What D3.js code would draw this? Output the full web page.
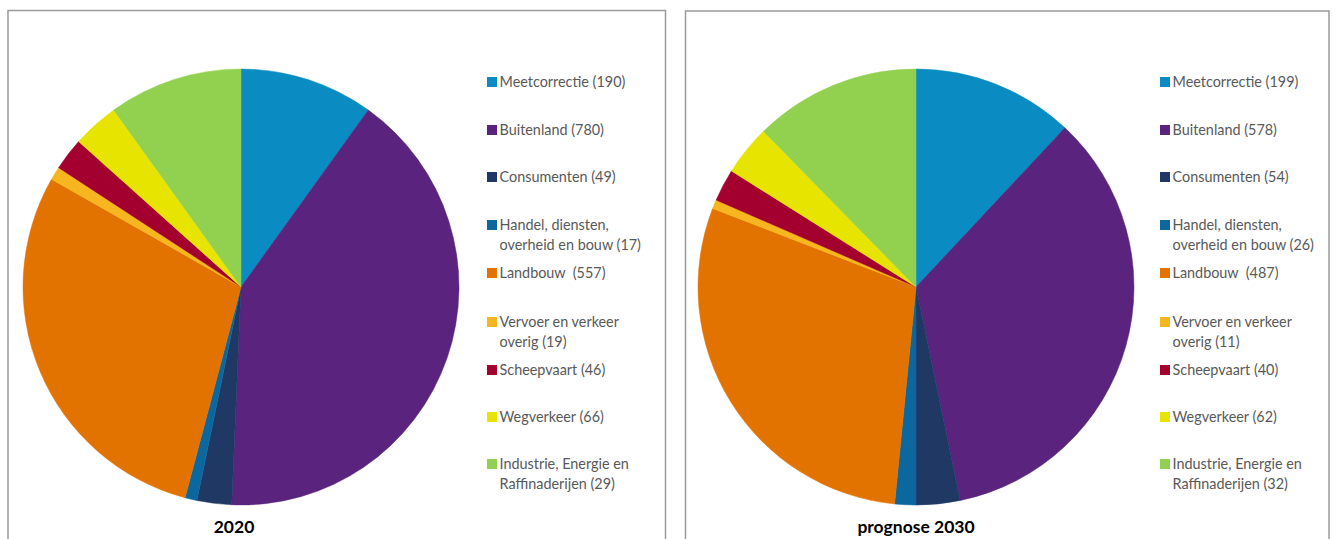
<!DOCTYPE html>
<html>
<head>
<meta charset="utf-8">
<script src="https://cdn.jsdelivr.net/npm/d3@7"></script>
<style>
  html, body { margin: 0; padding: 0; background: #fff; }
  svg { display: block; }
  text { white-space: pre; }
</style>
</head>
<body>
<svg id="chart" width="1335" height="539"></svg>
<script>
// ---- data ----
const categories = [
  "Meetcorrectie",
  "Buitenland",
  "Consumenten",
  "Handel, diensten,\noverheid en bouw",
  "Landbouw ",
  "Vervoer en verkeer\noverig",
  "Scheepvaart",
  "Wegverkeer",
  "Industrie, Energie en\nRaffinaderijen"
];
const colors = ["#0a8cc2", "#59237e", "#1f3864", "#0b679e", "#e37300", "#f7b61f", "#a3002f", "#e7e500", "#92d050"];
// slice sizes
const values2020 = [190, 780, 49, 17, 557, 19, 46, 66, 190];
const values2030 = [199, 578, 54, 26, 487, 11, 40, 62, 205];
// numbers printed in the legends
const legend2020 = [190, 780, 49, 17, 557, 19, 46, 66, 29];
const legend2030 = [199, 578, 54, 26, 487, 11, 40, 62, 32];
const titles = ["2020", "prognose 2030"];

// ---- layout ----
const svg = d3.select("#chart");
const panels = [
  { x0: 8, x1: 665.5, y0: 10.5, cx: 241, cy: 287, legX: 487, titleX: 234, values: values2020, legend: legend2020, title: titles[0] },
  { x0: 685.5, x1: 1329, y0: 11, cx: 916, cy: 287, legX: 1160, titleX: 916, values: values2030, legend: legend2030, title: titles[1] }
];
const rowY = [82, 130, 177, 225, 273, 322, 370, 417, 464];
const radius = 218;
const color = d3.scaleOrdinal().domain(categories).range(colors);
const pie = d3.pie().sort(null).value(d => d.v).startAngle(0).endAngle(2 * Math.PI);
const arc = d3.arc().innerRadius(0).outerRadius(radius);

panels.forEach(p => {
  // panel border (open at bottom, cut off by window)
  svg.append("path")
    .attr("d", `M${p.x0},560 V${p.y0} H${p.x1} V560`)
    .attr("fill", "none")
    .attr("stroke", "#9a9a9a")
    .attr("stroke-width", 1.5);

  const data = categories.map((c, i) => ({ c, v: p.values[i], lab: p.legend[i] }));
  const g = svg.append("g").attr("transform", `translate(${p.cx},${p.cy})`);
  g.selectAll("path.slice")
    .data(pie(data))
    .join("path")
    .attr("class", "slice")
    .attr("d", arc)
    .attr("fill", d => color(d.data.c))
    .attr("stroke", d => color(d.data.c))
    .attr("stroke-width", 0.5);

  const leg = svg.append("g");
  const items = leg.selectAll("g.item").data(data).join("g")
    .attr("class", "item")
    .attr("transform", (d, i) => `translate(${p.legX},${rowY[i]})`);
  items.append("rect")
    .attr("x", 0).attr("y", -5)
    .attr("width", 10).attr("height", 10)
    .attr("fill", d => color(d.c));
  items.each(function(d) {
    const lines = (d.c + " (" + d.lab + ")").split("\n");
    const t = d3.select(this).append("text")
      .attr("x", 12.5).attr("y", 5)
      .attr("font-family", "Lato, 'Open Sans', sans-serif")
      .attr("font-size", 14.4)
      .attr("fill", "#595959");
    lines.forEach((ln, k) => {
      t.append("tspan").attr("x", 12.5).attr("dy", k === 0 ? 0 : 19.5).text(ln);
    });
  });

  svg.append("text")
    .attr("x", p.titleX).attr("y", 533)
    .attr("text-anchor", "middle")
    .attr("font-family", "Lato, 'Open Sans', sans-serif")
    .attr("font-weight", "bold")
    .attr("font-size", 17.5)
    .attr("fill", "#000")
    .text(p.title);
});
</script>
</body>
</html>
